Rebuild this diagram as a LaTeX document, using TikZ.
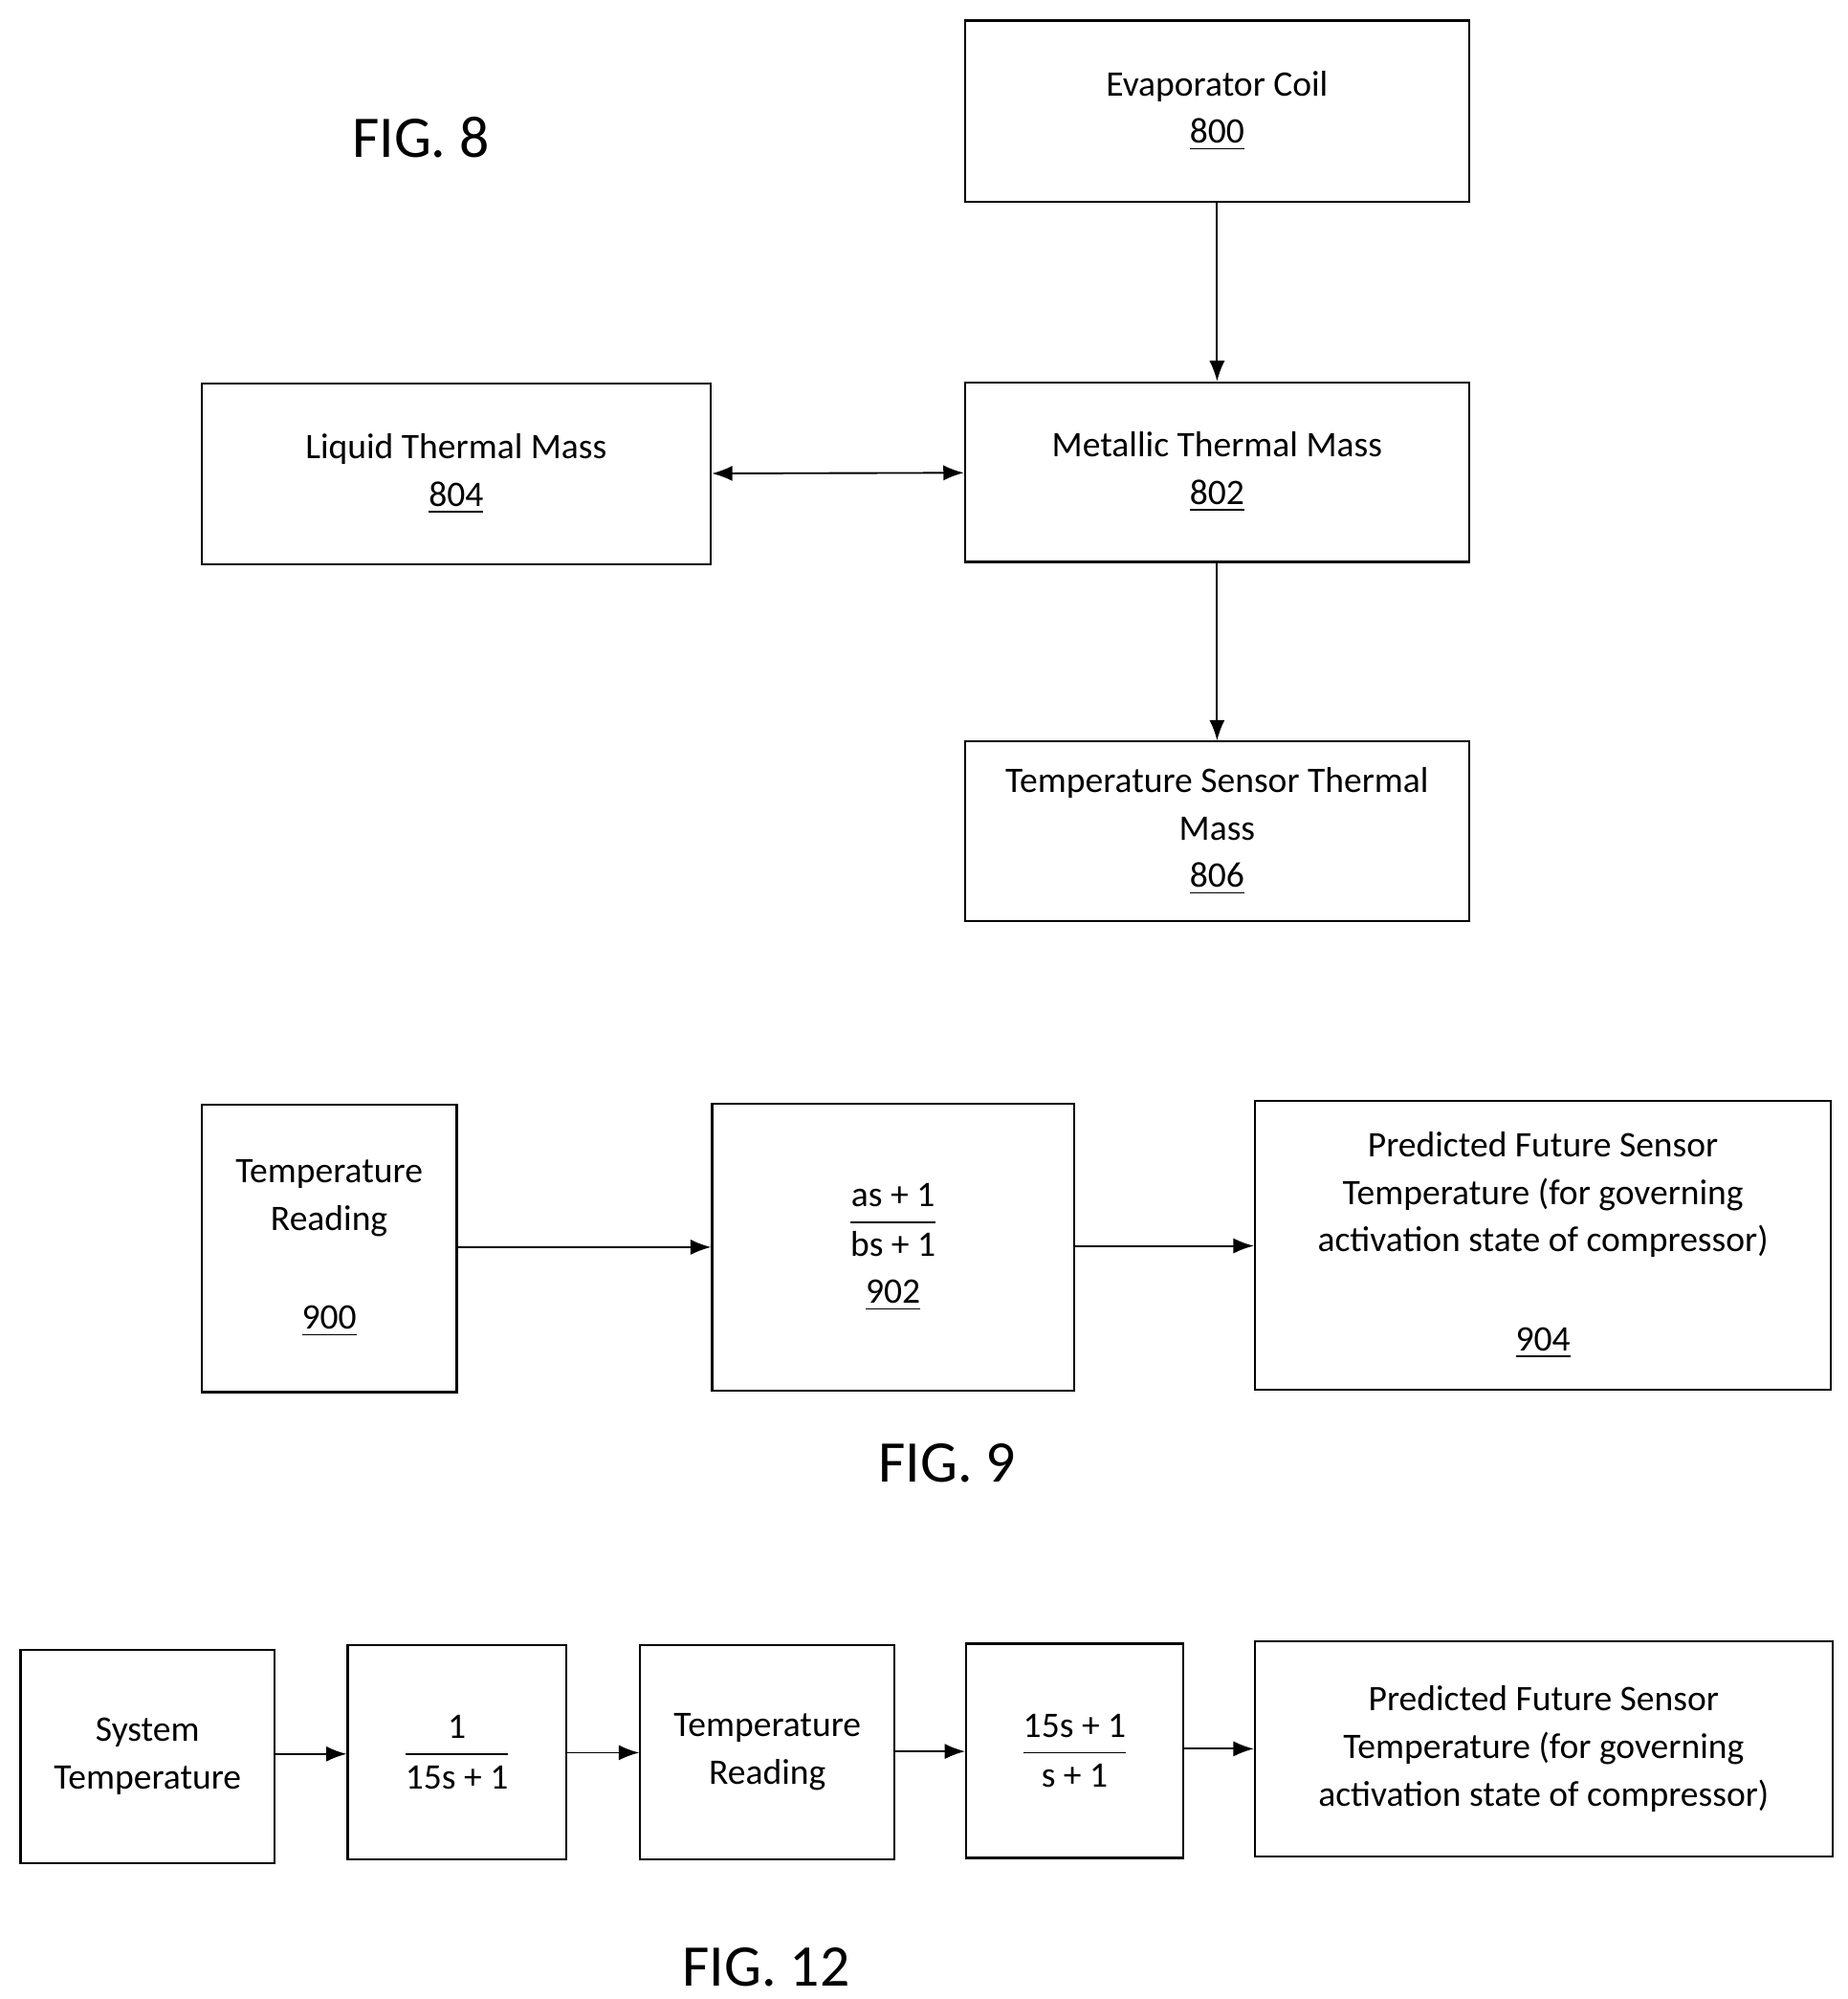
\documentclass[tikz,border=0pt]{standalone}
\usepackage{fontspec}
\usepackage{amsmath}
\setmainfont{Carlito}
\usetikzlibrary{arrows.meta}
\begin{document}
\begin{tikzpicture}[x=0.5pt,y=-0.5pt,
 box/.style={draw,line width=0.8pt,rectangle,inner sep=0pt,align=center,font=\fontsize{14}{18.5}\selectfont},
 arr/.style={-{Latex[length=8pt,width=6pt]},line width=0.7pt},
 figl/.style={font=\fontsize{23}{26}\selectfont}]
\useasboundingbox (0,0) rectangle (1440,1558);
% FIG 8
\node[figl] (f8) at (328,107) {FIG. 8};
\node[box,minimum width=196.5pt,minimum height=70.5pt] (n800) at (948.5,86.5) {Evaporator Coil\\\underline{800}};
\node[box,minimum width=196.5pt,minimum height=70pt] (n802) at (948.5,368) {Metallic Thermal Mass\\\underline{802}};
\node[box,minimum width=198.5pt,minimum height=70.5pt] (n804) at (355.5,369.5) {Liquid Thermal Mass\\\underline{804}};
\node[box,minimum width=196.5pt,minimum height=70pt] (n806) at (948.5,648) {Temperature Sensor Thermal\\Mass\\\underline{806}};
\draw[arr] (n800) -- (n802);
\draw[arr] (n802) -- (n806);
\draw[arr,{Latex[length=8pt,width=6pt]}-{Latex[length=8pt,width=6pt]}] (n804) -- (n802);
% FIG 9
\node[box,minimum width=99.5pt,minimum height=112pt] (n900) at (256.5,973) {Temperature\\Reading\\[20pt]\underline{900}};
\node[box,minimum width=141pt,minimum height=112pt] (n902) at (696,972) {$\displaystyle\frac{\text{as + 1}}{\text{bs + 1}}$\\[8pt]\underline{902}};
\node[box,minimum width=224.5pt,minimum height=112.5pt] (n904) at (1202.5,970.5) {Predicted Future Sensor\\Temperature (for governing\\activation state of compressor)\\[20pt]\underline{904}};
\draw[arr] (n900.east |- 0,972) -- (n902.west |- 0,972);
\draw[arr] (n902.east |- 0,971) -- (n904.west |- 0,971);
\node[figl] (f9) at (738,1140) {FIG. 9};
% FIG 12
\node[box,minimum width=99pt,minimum height=83pt] (st) at (115,1369) {System\\Temperature};
\node[box,minimum width=85pt,minimum height=83.5pt] (g1) at (356,1365.5) {$\displaystyle\frac{\text{1}}{\text{15s + 1}}$};
\node[box,minimum width=99pt,minimum height=83.5pt] (tr) at (598,1365.5) {Temperature\\Reading};
\node[box,minimum width=84.5pt,minimum height=83.5pt] (g2) at (837.5,1364.5) {$\displaystyle\frac{\text{15s + 1}}{\text{s + 1}}$};
\node[box,minimum width=225pt,minimum height=84pt] (pf) at (1203,1363) {Predicted Future Sensor\\Temperature (for governing\\activation state of compressor)};
\draw[arr] (st.east |- 0,1367) -- (g1.west |- 0,1367);
\draw[arr] (g1.east |- 0,1366) -- (tr.west |- 0,1366);
\draw[arr] (tr.east |- 0,1365) -- (g2.west |- 0,1365);
\draw[arr] (g2.east |- 0,1363) -- (pf.west |- 0,1363);
\node[figl] (f12) at (597,1533) {FIG. 12};
\end{tikzpicture}
\end{document}
